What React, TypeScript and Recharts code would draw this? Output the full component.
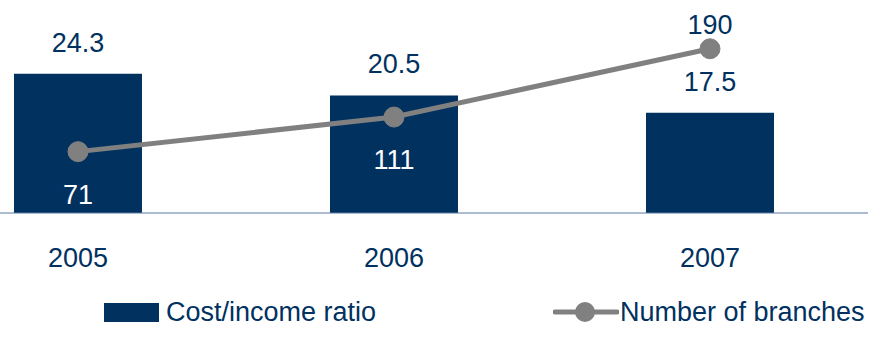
import React from "react";
import {
  ComposedChart,
  Bar,
  Line,
  XAxis,
  YAxis,
  Legend,
  LabelList,
} from "recharts";

const years = [2005, 2006, 2007];
const costIncome = [24.3, 20.5, 17.5];
const branches = [71, 111, 190];

const NAVY = "#00315f";
const GREY = "#808080";
const FONT = "'Liberation Sans', Arial, sans-serif";

const data = years.map((year, i) => ({
  year,
  ratio: costIncome[i],
  branches: branches[i],
}));

function YearTick(props: any) {
  const { x, payload } = props;
  return (
    <text x={x} y={267} textAnchor="middle" fill={NAVY} fontSize={27} fontFamily={FONT}>
      {payload.value}
    </text>
  );
}

function BranchLabel(props: any) {
  const { x, y, value, index } = props;
  const last = index === branches.length - 1;
  return (
    <text
      x={x}
      y={last ? y - 15 : y + 52}
      textAnchor="middle"
      fill={last ? NAVY : "#ffffff"}
      fontSize={27}
      fontFamily={FONT}
    >
      {value}
    </text>
  );
}

function ChartLegend() {
  return (
    <div style={{ position: "relative", width: 872, height: 40, fontFamily: FONT, fontSize: 27, color: NAVY }}>
      <div style={{ position: "absolute", left: 104, top: 9, width: 55, height: 19, background: NAVY }} />
      <div style={{ position: "absolute", left: 166, top: 0, lineHeight: "36px" }}>Cost/income ratio</div>
      <svg style={{ position: "absolute", left: 553, top: 6 }} width={66} height={24}>
        <line x1={2} y1={12} x2={64} y2={12} stroke={GREY} strokeWidth={5} strokeLinecap="round" />
        <circle cx={32} cy={12} r={10} fill={GREY} />
      </svg>
      <div style={{ position: "absolute", left: 620, top: 0, lineHeight: "36px" }}>Number of branches</div>
    </div>
  );
}

export default function App() {
  return (
    <div style={{ position: "absolute", left: 0, top: 0 }}>
      <ComposedChart
        width={872}
        height={338}
        data={data}
        margin={{ top: 41, right: 4, bottom: 80, left: 0 }}
      >
        <XAxis
          dataKey="year"
          type="number"
          domain={[2004.7532, 2007.5]}
          allowDataOverflow
          ticks={years}
          tickLine={false}
          axisLine={{ stroke: "#5b79a3", strokeWidth: 1 }}
          tick={<YearTick />}
          height={45}
        />
        <YAxis yAxisId="left" hide domain={[0, 30]} />
        <YAxis yAxisId="right" hide orientation="right" domain={[0, 199]} />
        <Legend
          layout="horizontal"
          verticalAlign="middle"
          align="center"
          wrapperStyle={{ top: 294, left: 0, width: 872 }}
          content={() => <ChartLegend />}
        />
        <Bar
          yAxisId="left"
          dataKey="ratio"
          name="Cost/income ratio"
          fill={NAVY}
          barSize={128}
          isAnimationActive={false}
        >
          <LabelList
            dataKey="ratio"
            position="top"
            offset={22}
            fill={NAVY}
            fontSize={27}
            fontFamily={FONT}
          />
        </Bar>
        <Line
          yAxisId="right"
          dataKey="branches"
          name="Number of branches"
          stroke={GREY}
          strokeWidth={5}
          dot={{ r: 10, fill: GREY, stroke: GREY, strokeWidth: 1 }}
          activeDot={false}
          isAnimationActive={false}
        >
          <LabelList dataKey="branches" content={<BranchLabel />} />
        </Line>
      </ComposedChart>
    </div>
  );
}
